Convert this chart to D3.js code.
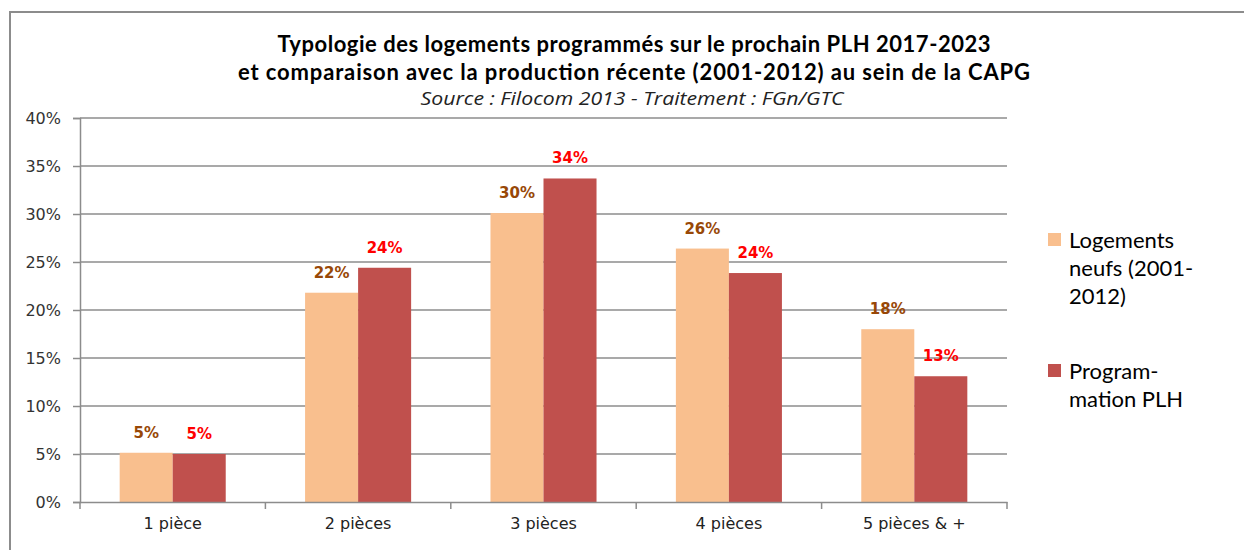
<!DOCTYPE html>
<html>
<head>
<meta charset="utf-8">
<script src="https://cdn.jsdelivr.net/npm/d3@7"></script>
<style>
  body { margin: 0; background: #fff; }
  svg { display: block; }
</style>
</head>
<body>
<div id="chart"></div>
<script>
// data
const categories = ['1 pièce', '2 pièces', '3 pièces', '4 pièces', '5 pièces & +'];
const logementsNeufs = [0.0513, 0.218, 0.301, 0.264, 0.180];
const programmation = [0.050, 0.244, 0.337, 0.2385, 0.131];
const seriesNames = [['Logements', 'neufs (2001-', '2012)'], ['Program-', 'mation PLH']];
const yTicks = [0, 0.05, 0.10, 0.15, 0.20, 0.25, 0.30, 0.35, 0.40];

const width = 1244, height = 550;
const margin = {top: 118, right: 237, bottom: 48, left: 80};
const innerW = width - margin.left - margin.right;
const innerH = height - margin.top - margin.bottom;

const fillColors = ['#F9BF8E', '#C0504D'];
const labelColors = ['#984807', '#FF0000'];
const axisFont = '"DejaVu Sans", Verdana, sans-serif';

const svg = d3.select('#chart').append('svg')
    .attr('width', width)
    .attr('height', height);

// outer frame
svg.append('rect')
    .attr('x', 10).attr('y', 12)
    .attr('width', width + 20).attr('height', height)
    .attr('fill', 'none')
    .attr('stroke', '#8c8c8c')
    .attr('stroke-width', 2);

// titles
const titleX = 634;
svg.append('text')
    .attr('x', titleX).attr('y', 52)
    .attr('text-anchor', 'middle')
    .style('font-family', 'Lato, sans-serif')
    .style('font-weight', 'bold')
    .style('font-size', '22px')
    .attr('textLength', 713)
    .attr('lengthAdjust', 'spacing')
    .text('Typologie des logements programmés sur le prochain PLH 2017-2023');
svg.append('text')
    .attr('x', titleX).attr('y', 80)
    .attr('text-anchor', 'middle')
    .style('font-family', 'Lato, sans-serif')
    .style('font-weight', 'bold')
    .style('font-size', '22px')
    .attr('textLength', 792)
    .attr('lengthAdjust', 'spacing')
    .text('et comparaison avec la production récente (2001-2012) au sein de la CAPG');
svg.append('text')
    .attr('x', 632).attr('y', 105)
    .attr('text-anchor', 'middle')
    .style('font-family', '"Open Sans", sans-serif')
    .style('font-style', 'italic')
    .style('font-size', '18px')
    .attr('textLength', 423)
    .attr('lengthAdjust', 'spacingAndGlyphs')
    .attr('fill', '#222')
    .text('Source : Filocom 2013 - Traitement : FGn/GTC');

const chart = svg.append('g')
    .attr('transform', `translate(${margin.left},${margin.top})`);

const x0 = d3.scaleBand()
    .domain(categories)
    .range([0, innerW])
    .paddingInner(0)
    .paddingOuter(0);

const x1 = d3.scaleBand()
    .domain([0, 1])
    .range([x0.bandwidth() * 0.214, x0.bandwidth() * 0.786]);

const y = d3.scaleLinear()
    .domain([0, 0.40])
    .range([innerH, 0]);

// gridlines
chart.append('g')
    .selectAll('line')
    .data(yTicks.slice(1))
    .join('line')
    .attr('x1', 0).attr('x2', innerW)
    .attr('y1', d => y(d)).attr('y2', d => y(d))
    .attr('stroke', '#8c8c8c')
    .attr('stroke-width', 1.5);

// y axis
const yAxis = chart.append('g')
    .call(d3.axisLeft(y).tickValues(yTicks).tickFormat(d3.format('.0%')).tickSize(7).tickPadding(12));
yAxis.select('.domain').attr('stroke', '#8c8c8c').attr('stroke-width', 1.5);
yAxis.selectAll('.tick line').attr('stroke', '#8c8c8c').attr('stroke-width', 1.5);
yAxis.selectAll('.tick text')
    .style('font-family', axisFont)
    .style('font-size', '16px')
    .attr('fill', '#333');

// bars
const seriesData = [logementsNeufs, programmation];
const groups = chart.append('g')
    .selectAll('g')
    .data(categories)
    .join('g')
    .attr('transform', d => `translate(${x0(d)},0)`);

groups.selectAll('rect')
    .data((d, i) => seriesData.map((s, k) => ({k, v: s[i]})))
    .join('rect')
    .attr('x', d => x1(d.k))
    .attr('y', d => y(d.v))
    .attr('width', x1.bandwidth())
    .attr('height', d => innerH - y(d.v))
    .attr('fill', d => fillColors[d.k]);

groups.selectAll('text')
    .data((d, i) => seriesData.map((s, k) => ({k, v: s[i]})))
    .join('text')
    .attr('x', d => x1(d.k) + x1.bandwidth() / 2)
    .attr('y', d => y(d.v) - 15)
    .attr('text-anchor', 'middle')
    .style('font-family', axisFont)
    .style('font-weight', 'bold')
    .style('font-size', '15px')
    .attr('fill', d => labelColors[d.k])
    .text(d => d3.format('.0%')(d.v));

// x axis
const xAxis = chart.append('g')
    .attr('transform', `translate(0,${innerH})`)
    .call(d3.axisBottom(x0).tickSize(0).tickPadding(16));
xAxis.select('.domain').attr('stroke', '#8c8c8c').attr('stroke-width', 1.5);
xAxis.selectAll('.tick text')
    .style('font-family', axisFont)
    .style('font-size', '16px')
    .attr('fill', '#222');
chart.append('g')
    .selectAll('line')
    .data(d3.range(categories.length + 1))
    .join('line')
    .attr('x1', i => i * x0.step()).attr('x2', i => i * x0.step())
    .attr('y1', innerH).attr('y2', innerH + 7)
    .attr('stroke', '#8c8c8c')
    .attr('stroke-width', 1.5);

// legend
const legend = svg.append('g')
    .attr('transform', 'translate(1048,0)');
const legendTop = [233, 364];
seriesNames.forEach((lines, k) => {
    legend.append('rect')
        .attr('x', 0).attr('y', legendTop[k])
        .attr('width', 13).attr('height', 13)
        .attr('fill', fillColors[k]);
    lines.forEach((line, j) => {
        legend.append('text')
            .attr('x', 21)
            .attr('y', legendTop[k] + 15 + j * 28)
            .style('font-family', 'Lato, sans-serif')
            .style('font-size', '22px')
            .attr('fill', '#000')
            .text(line);
    });
});
</script>
</body>
</html>
